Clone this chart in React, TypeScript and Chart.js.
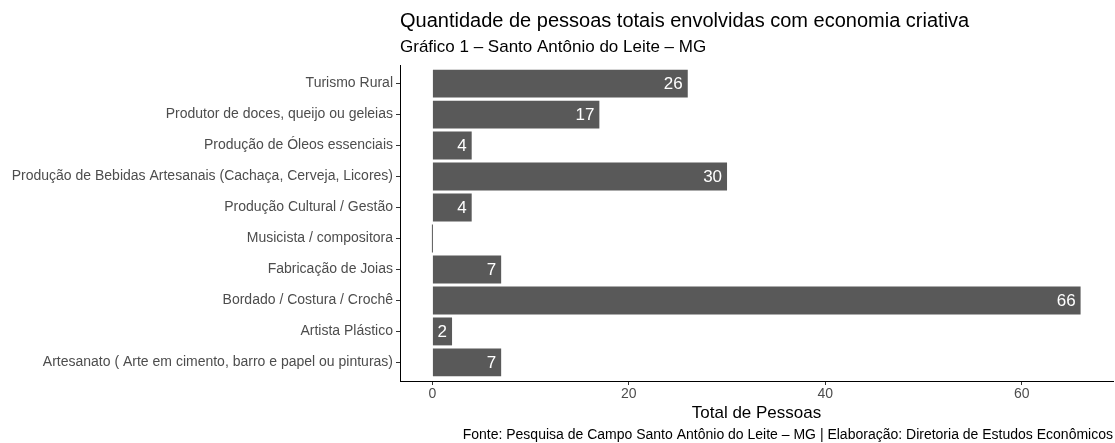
import React, { useEffect, useRef } from "react";
import { Chart, registerables } from "chart.js";

Chart.register(...registerables);

const categories = [
  "Turismo Rural",
  "Produtor de doces, queijo ou geleias",
  "Produção de Óleos essenciais",
  "Produção de Bebidas Artesanais (Cachaça, Cerveja, Licores)",
  "Produção Cultural / Gestão",
  "Musicista / compositora",
  "Fabricação de Joias",
  "Bordado / Costura / Crochê",
  "Artista Plástico",
  "Artesanato ( Arte em cimento, barro e papel ou pinturas)",
];
const values = [26, 17, 4, 30, 4, 0, 7, 66, 2, 7];
const xTicks = [0, 20, 40, 60];

const titleText = "Quantidade de pessoas totais envolvidas com economia criativa";
const subtitleText = "Gráfico 1 – Santo Antônio do Leite – MG";
const xTitleText = "Total de Pessoas";
const captionText =
  "Fonte: Pesquisa de Campo Santo Antônio do Leite – MG | Elaboração: Diretoria de Estudos Econômicos";

const FONT = "'Liberation Sans', Arial, Helvetica, sans-serif";

export default function App() {
  const ref = useRef<HTMLCanvasElement | null>(null);

  useEffect(() => {
    document.body.style.margin = "0";
    const canvas = ref.current;
    if (!canvas) return;

    const textPlugin = {
      id: "textPlugin",
      afterDatasetsDraw(chart: any) {
        const ctx = chart.ctx;
        const meta = chart.getDatasetMeta(0);
        ctx.save();
        ctx.fillStyle = "#ffffff";
        ctx.font = `17px ${FONT}`;
        ctx.textAlign = "right";
        ctx.textBaseline = "middle";
        meta.data.forEach((el: any, i: number) => {
          if (values[i] === 0) return;
          ctx.fillText(String(values[i]), el.x - 5, el.y + 0.5);
        });
        ctx.restore();
      },
      afterDraw(chart: any) {
        const ctx = chart.ctx;
        const area = chart.chartArea;
        ctx.save();
        ctx.fillStyle = "#000000";
        ctx.textBaseline = "middle";
        ctx.textAlign = "left";
        ctx.font = `20px ${FONT}`;
        ctx.fillText(titleText, area.left, 21);
        ctx.font = `17px ${FONT}`;
        ctx.fillText(subtitleText, area.left, 47);
        ctx.textAlign = "center";
        ctx.font = `17px ${FONT}`;
        ctx.fillText(xTitleText, (area.left + area.right) / 2, 413);
        ctx.textAlign = "right";
        ctx.font = `14px ${FONT}`;
        ctx.fillText(captionText, chart.width - 2, 435);
        ctx.restore();
      },
    };

    const chart = new Chart(canvas, {
      type: "bar",
      data: {
        datasets: [
          {
            data: values.map((v, i) => ({ x: v, y: i })),
            backgroundColor: "#595959",
            borderWidth: 0,
            barPercentage: 0.9,
            categoryPercentage: 1,
            minBarLength: 1,
          } as any,
        ],
      },
      options: {
        indexAxis: "y",
        animation: false,
        responsive: false,
        maintainAspectRatio: false,
        layout: { padding: { top: 65, left: 0, right: 2, bottom: 0 } },
        plugins: {
          legend: { display: false },
          tooltip: { enabled: false },
          title: { display: false },
        },
        scales: {
          x: {
            type: "linear",
            min: -3.3,
            max: 69.3,
            afterBuildTicks: (scale: any) => {
              scale.ticks = xTicks.map((v) => ({ value: v }));
            },
            afterFit: (scale: any) => {
              scale.height = 443 - 381;
            },
            grid: {
              display: true,
              drawOnChartArea: false,
              drawTicks: true,
              tickLength: 4,
              color: "#333333",
              lineWidth: 1,
            },
            border: { display: true, color: "#000000", width: 1 },
            ticks: {
              color: "#4d4d4d",
              font: { family: FONT, size: 14 },
              padding: 1,
              maxRotation: 0,
              autoSkip: false,
            },
          },
          y: {
            type: "linear",
            reverse: true,
            offset: false,
            min: -0.6,
            max: 9.6,
            afterBuildTicks: (scale: any) => {
              scale.ticks = categories.map((_, i) => ({ value: i }));
            },
            afterFit: (scale: any) => {
              scale.width = 400;
            },
            grid: {
              display: true,
              offset: false,
              drawOnChartArea: false,
              drawTicks: true,
              tickLength: 4,
              color: "#333333",
              lineWidth: 1,
            },
            border: { display: true, color: "#000000", width: 1 },
            ticks: {
              color: "#4d4d4d",
              font: { family: FONT, size: 14 },
              padding: 3,
              autoSkip: false,
              callback: (v: any) => categories[Number(v)] ?? "",
            },
          },
        },
      } as any,
      plugins: [textPlugin],
    });

    return () => chart.destroy();
  }, []);

  return (
    <div style={{ width: 1115, height: 443, background: "#fff" }}>
      <canvas ref={ref} width={1115} height={443} style={{ display: "block" }} />
    </div>
  );
}
